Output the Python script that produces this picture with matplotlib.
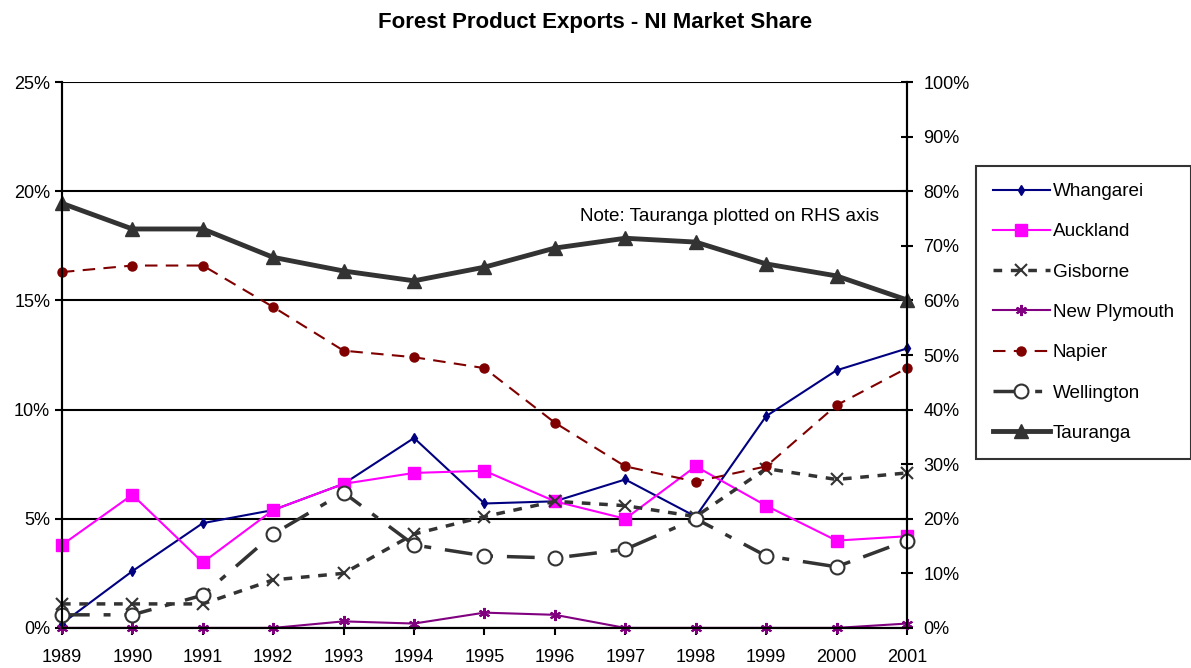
import matplotlib.pyplot as plt
from matplotlib.ticker import PercentFormatter

plt.rcParams['font.family'] = ['Liberation Sans', 'DejaVu Sans']

years = [1989, 1990, 1991, 1992, 1993, 1994, 1995, 1996, 1997, 1998, 1999, 2000, 2001]

# market share, % (left axis)
whangarei = [0.2, 2.6, 4.8, 5.4, 6.6, 8.7, 5.7, 5.8, 6.8, 5.1, 9.7, 11.8, 12.8]
auckland = [3.8, 6.1, 3.0, 5.4, 6.6, 7.1, 7.2, 5.8, 5.0, 7.4, 5.6, 4.0, 4.2]
gisborne = [1.1, 1.1, 1.1, 2.2, 2.5, 4.3, 5.1, 5.8, 5.6, 5.1, 7.3, 6.8, 7.1]
new_plymouth = [0.0, 0.0, 0.0, 0.0, 0.3, 0.2, 0.7, 0.6, 0.0, 0.0, 0.0, 0.0, 0.2]
napier = [16.3, 16.6, 16.6, 14.7, 12.7, 12.4, 11.9, 9.4, 7.4, 6.7, 7.4, 10.2, 11.9]
wellington = [0.6, 0.6, 1.5, 4.3, 6.2, 3.8, 3.3, 3.2, 3.6, 5.0, 3.3, 2.8, 4.0]

# Tauranga share, % (right axis)
tauranga = [77.8, 73.1, 73.1, 67.9, 65.4, 63.6, 66.1, 69.6, 71.4, 70.7, 66.7, 64.5, 60.1]

fig = plt.figure(figsize=(11.91, 6.68), dpi=100)
ax = fig.add_axes([0.052, 0.060, 0.7095, 0.817])
ax2 = ax.twinx()

ax.plot(years, whangarei, color='#000080', lw=1.5, marker='d', ms=5, label='Whangarei', clip_on=False)
ax.plot(years, auckland, color='#FF00FF', lw=1.5, marker='s', ms=8, label='Auckland', clip_on=False)
ax.plot(years, gisborne, color='#333333', lw=2.5, ls=(0, (2.5, 2.5)), marker='x', ms=9, mew=1.5,
        label='Gisborne', clip_on=False)
ax.plot(years, new_plymouth, color='#800080', lw=1.5, marker=(6, 2, 0), ms=8, mew=1.5,
        label='New Plymouth', clip_on=False)
ax.plot(years, napier, color='#800000', lw=1.5, ls=(0, (6, 4)), marker='o', ms=6.5,
        label='Napier', clip_on=False)
ax.plot(years, wellington, color='#333333', lw=2.5, ls=(0, (8, 4, 2, 4)), marker='o', ms=10,
        mfc='white', mew=1.5, label='Wellington', clip_on=False)
ax2.plot(years, tauranga, color='#333333', lw=3.5, marker='^', ms=10, label='Tauranga', clip_on=False)

ax.set_xlim(1989, 2001)
ax.set_ylim(0, 25)
ax2.set_ylim(0, 100)
ax.set_xticks(years)
ax.set_yticks(range(0, 26, 5))
ax2.set_yticks(range(0, 101, 10))
ax.yaxis.set_major_formatter(PercentFormatter(decimals=0))
ax2.yaxis.set_major_formatter(PercentFormatter(decimals=0))

ax.grid(axis='y', color='black', lw=1.5)
ax.set_axisbelow(True)
for a in (ax, ax2):
    for s in a.spines.values():
        s.set_linewidth(1.5)
ax.spines['top'].set_visible(False)
ax2.spines['top'].set_visible(False)
ax.tick_params(axis='both', labelsize=13, direction='out', length=5, width=1.5)
ax2.tick_params(axis='y', labelsize=13, direction='inout', length=8, width=1.5, pad=8)
ax.tick_params(axis='x', pad=10)

ax.text(1996.36, 18.86, 'Note: Tauranga plotted on RHS axis', fontsize=13.6, va='center')

fig.suptitle('Forest Product Exports - NI Market Share', fontsize=16, fontweight='bold', y=0.982)

h1, l1 = ax.get_legend_handles_labels()
h2, l2 = ax2.get_legend_handles_labels()
leg = fig.legend(h1 + h2, l1 + l2, loc='upper left', bbox_to_anchor=(0.8195, 0.7515),
                 borderaxespad=0, fontsize=13.6, frameon=True, fancybox=False, edgecolor='black',
                 labelspacing=1.22, handlelength=3.0, handletextpad=0.15, borderpad=0.9)
leg.get_frame().set_linewidth(1.5)

fig.savefig('out.png', dpi=100)
